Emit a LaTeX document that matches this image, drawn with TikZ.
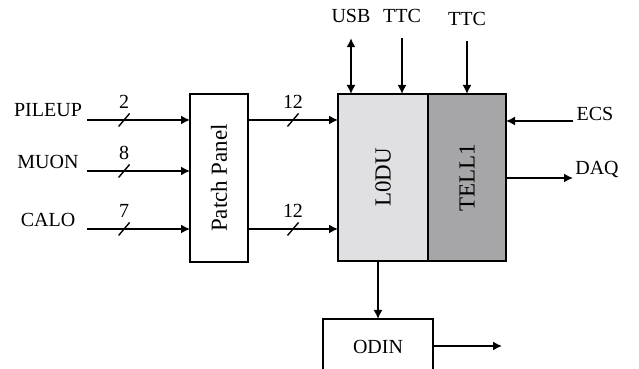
\documentclass[tikz,border=0pt]{standalone}
\usepackage{fontspec}
\setmainfont{Liberation Serif}
\usetikzlibrary{arrows.meta}
\definecolor{lodugray}{RGB}{224,224,226}
\definecolor{tellgray}{RGB}{166,166,168}
\begin{document}
\begin{tikzpicture}[x=0.5pt,y=0.5pt,line width=0.8pt,
  font=\fontsize{10}{12}\selectfont,
  >={Latex[length=4.5pt,width=4.5pt]},
  board/.style={draw,line width=0.9pt,inner sep=0pt,outer sep=0pt},
  boardtext/.style={font=\fontsize{11.5}{13}\selectfont},
  busmark/.pic={\draw[-,line width=0.7pt] (-5.5,-6.5) -- (5.5,6.5); \node at (0,18) {#1};}]
\useasboundingbox (0,0) rectangle (639,369);
\node[board,boardtext,minimum width=29pt,minimum height=84pt] (pp) at (219,191) {\rotatebox{90}{Patch Panel}};
\node[board,boardtext,fill=lodugray,minimum width=45pt,minimum height=83.5pt] (l0du) at (383,191.5) {\rotatebox{90}{L0DU}};
\node[board,boardtext,fill=tellgray,anchor=west,minimum width=39pt,minimum height=83.5pt] (tell1) at (l0du.east) {\rotatebox{90}{TELL1}};
\node[board,minimum width=55pt,minimum height=28pt] (odin) at (378,22) {ODIN};
\node (pileup) at (48,259) {PILEUP};
\node (muon) at (48,207.5) {MUON};
\node (calo) at (48,149) {CALO};
\node (usb) at (351,353) {USB};
\node (ttca) at (402,353) {TTC};
\node (ttcb) at (467,350) {TTC};
\node (ecs) at (595,255.5) {ECS};
\node (daq) at (597,199) {DAQ};
\coordinate (pileupin) at (87,249);
\coordinate (muonin) at (87,198);
\coordinate (caloin) at (87,140);
\coordinate (ecsin) at (573,248);
\coordinate (daqout) at (573,191);
\coordinate (odinout) at (502,23);
\draw[->] (pileupin) -- pic[pos=0.36]{busmark=2} (pileupin -| pp.west);
\draw[->] (muonin) -- pic[pos=0.36]{busmark=8} (muonin -| pp.west);
\draw[->] (caloin) -- pic[pos=0.36]{busmark=7} (caloin -| pp.west);
\draw[->] (pp.east |- pileupin) -- pic{busmark=12} (l0du.west |- pileupin);
\draw[->] (pp.east |- caloin) -- pic{busmark=12} (l0du.west |- caloin);
\draw[<->] ([yshift=-4pt]usb.south) -- (usb |- l0du.north);
\draw[->] ([yshift=-4pt]ttca.south) -- (ttca |- l0du.north);
\draw[->] ([yshift=-4pt]ttcb.south) -- (ttcb |- tell1.north);
\draw[->] (ecsin) -- (ecsin -| tell1.east);
\draw[->] (tell1.east |- daqout) -- (daqout);
\draw[->] (odin.north |- l0du.south) -- (odin.north);
\draw[->] (odin.east |- odinout) -- (odinout);
\end{tikzpicture}
\end{document}
